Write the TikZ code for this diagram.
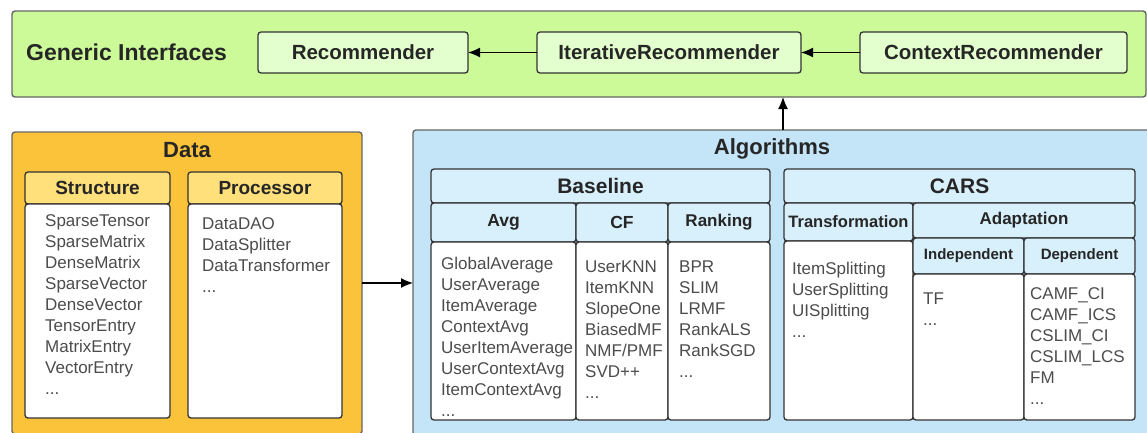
\documentclass[tikz,border=0pt]{standalone}
\usepackage{fontspec}
\setmainfont{Liberation Sans}
\usetikzlibrary{positioning,arrows.meta}
\definecolor{giFill}{HTML}{CCFA99}
\definecolor{ifaceFill}{HTML}{E4FFCE}
\definecolor{dataFill}{HTML}{FBC33A}
\definecolor{dataHead}{HTML}{FFE07A}
\definecolor{algoFill}{HTML}{C4E4F8}
\definecolor{algoHead}{HTML}{D8F0FB}

\begin{document}
\begin{tikzpicture}[x=1pt,y=-1pt,>={Latex[length=12pt,width=10pt]},
groupnode/.style={rectangle, draw=black!60, line width=1.4pt, rounded corners=3pt,
anchor=north west, inner sep=0pt, outer sep=0pt},
boxnode/.style={rectangle, draw=black!80, line width=1.3pt, rounded corners=3pt,
anchor=north west, inner sep=0pt, outer sep=0pt, text=black!85,
font=\bfseries\fontsize{19}{22}\selectfont},
bodynode/.style={rectangle, draw=black!80, line width=1.3pt, rounded corners=3pt,
fill=white, inner sep=0pt, outer sep=0pt},
listnode/.style={anchor=north west, inner sep=0pt, align=left, text=black!70,
font=\fontsize{17}{21}\selectfont},
titlenode/.style={inner sep=0pt, text=black!85, font=\bfseries\fontsize{22}{24}\selectfont}
]
\clip (0,0) rectangle (1147,432);

%Groups
\node[groupnode, fill=giFill, minimum width=1134pt, minimum height=86pt] (gi) at (12,11) {};
\node[groupnode, fill=dataFill, minimum width=350pt, minimum height=302pt] (data) at (12,132) {};
\node[groupnode, fill=algoFill, minimum width=740pt, minimum height=306pt] (algo) at (413,130) {};
\node[titlenode, anchor=west, font=\bfseries\fontsize{23}{26}\selectfont] (gititle) at (26,52) {Generic Interfaces};
\node[titlenode] (datatitle) at (187,150) {Data};
\node[titlenode] (algotitle) at (772,149) {Algorithms};

%Interfaces
\node[boxnode, fill=ifaceFill, minimum width=210pt, minimum height=41pt, font=\bfseries\fontsize{20.5}{24}\selectfont] (rec) at (258,32) {Recommender};
\node[boxnode, fill=ifaceFill, minimum width=264pt, minimum height=41pt, font=\bfseries\fontsize{20.5}{24}\selectfont] (iter) at (537,32) {IterativeRecommender};
\node[boxnode, fill=ifaceFill, minimum width=267pt, minimum height=41pt, font=\bfseries\fontsize{20.5}{24}\selectfont] (ctx) at (860,32) {ContextRecommender};

%Data
\node[boxnode, fill=dataHead, minimum width=145pt, minimum height=32pt] (structhead) at (25,172) {Structure};
\node[bodynode, minimum width=145pt, minimum height=214pt] (structbody) [below=0pt of structhead] {};
\node[boxnode, fill=dataHead, minimum width=154pt, minimum height=32pt] (prochead) at (188,172) {Processor};
\node[bodynode, minimum width=154pt, minimum height=214pt] (procbody) [below=0pt of prochead] {};

%Baseline
\node[boxnode, fill=algoHead, minimum width=339pt, minimum height=34pt, font=\bfseries\fontsize{21}{24}\selectfont] (basehead) at (431,169) {Baseline};
\node[boxnode, fill=algoHead, minimum width=145pt, minimum height=39pt, font=\bfseries\fontsize{17.5}{20}\selectfont] (avghead) at (431,203) {Avg};
\node[bodynode, minimum width=145pt, minimum height=178pt] (avgbody) [below=0pt of avghead] {};
\node[boxnode, fill=algoHead, minimum width=92pt, minimum height=39pt, font=\bfseries\fontsize{17.5}{20}\selectfont] (cfhead) at (576,203) {CF};
\node[bodynode, minimum width=92pt, minimum height=178pt] (cfbody) [below=0pt of cfhead] {};
\node[boxnode, fill=algoHead, minimum width=102pt, minimum height=39pt, font=\bfseries\fontsize{17}{20}\selectfont] (rankhead) at (668,203) {Ranking};
\node[bodynode, minimum width=102pt, minimum height=178pt] (rankbody) [below=0pt of rankhead] {};

%CARS
\node[boxnode, fill=algoHead, minimum width=351pt, minimum height=34pt, font=\bfseries\fontsize{21}{24}\selectfont] (carshead) at (784,169) {CARS};
\node[boxnode, fill=algoHead, minimum width=129pt, minimum height=38pt, font=\bfseries\fontsize{16.5}{20}\selectfont] (transhead) at (784,203) {Transformation};
\node[bodynode, minimum width=129pt, minimum height=179pt] (transbody) [below=0pt of transhead] {};
\node[boxnode, fill=algoHead, minimum width=222pt, minimum height=35pt, font=\bfseries\fontsize{17}{20}\selectfont] (adapthead) at (913,203) {Adaptation};
\node[boxnode, fill=algoHead, minimum width=111pt, minimum height=36pt, font=\bfseries\fontsize{15}{18}\selectfont] (indephead) at (913,238) {Independent};
\node[bodynode, minimum width=111pt, minimum height=146pt] (indepbody) [below=0pt of indephead] {};
\node[boxnode, fill=algoHead, minimum width=111pt, minimum height=36pt, font=\bfseries\fontsize{15}{18}\selectfont] (dephead) at (1024,238) {Dependent};
\node[bodynode, minimum width=111pt, minimum height=146pt] (depbody) [below=0pt of dephead] {};

%Lists
\node[listnode] (structlist) [below right=10pt and 20pt of structbody.north west] {SparseTensor\\SparseMatrix\\DenseMatrix\\SparseVector\\DenseVector\\TensorEntry\\MatrixEntry\\VectorEntry\\...};
\node[listnode] (proclist) [below right=13pt and 14pt of procbody.north west] {DataDAO\\DataSplitter\\DataTransformer\\...};
\node[listnode] (avglist) [below right=15pt and 10pt of avgbody.north west] {GlobalAverage\\UserAverage\\ItemAverage\\ContextAvg\\UserItemAverage\\UserContextAvg\\ItemContextAvg\\...};
\node[listnode] (cflist) [below right=19pt and 9pt of cfbody.north west] {UserKNN\\ItemKNN\\SlopeOne\\BiasedMF\\NMF/PMF\\SVD++\\...};
\node[listnode] (ranklist) [below right=19pt and 11pt of rankbody.north west] {BPR\\SLIM\\LRMF\\RankALS\\RankSGD\\...};
\node[listnode] (translist) [below right=21pt and 8pt of transbody.north west] {ItemSplitting\\UserSplitting\\UISplitting\\...};
\node[listnode] (indeplist) [below right=19pt and 10pt of indepbody.north west] {TF\\...};
\node[listnode] (deplist) [below right=13pt and 6pt of depbody.north west] {CAMF\_CI\\CAMF\_ICS\\CSLIM\_CI\\CSLIM\_LCS\\FM\\...};

%Lines
\draw[line width=1.3pt,->] (iter.west) -- (rec.east);
\draw[line width=1.3pt,->] (ctx.west) -- (iter.east);
\draw[line width=1.3pt,->] (algo.north) -- (algo.north |- gi.south);
\draw[line width=1.3pt,->] (data.east) -- (algo.west);
\end{tikzpicture}
\end{document}
